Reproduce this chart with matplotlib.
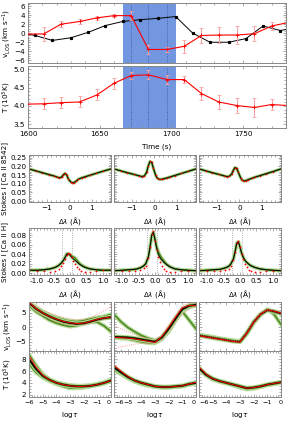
import matplotlib
matplotlib.use("Agg")
import matplotlib.pyplot as plt
from matplotlib.ticker import AutoMinorLocator, MultipleLocator

# ---- time series (top panels) ----
t_red = [1599, 1611, 1623, 1636, 1648, 1660, 1672, 1684, 1697, 1709, 1721, 1733, 1746, 1758, 1770, 1782]
v_red = [-0.2, -0.15, 2.0, 2.6, 3.4, 3.9, 3.9, -3.6, -3.6, -2.9, -0.5, -0.4, -0.4, -0.1, 1.6, 2.4]
v_err = [0.4, 1.5, 0.7, 0.6, 0.5, 0.4, 1.0, 1.0, 0.5, 1.4, 1.7, 1.8, 1.9, 1.6, 0.9, 0.5]
T_red = [4.05, 4.06, 4.09, 4.11, 4.30, 4.62, 4.83, 4.85, 4.72, 4.72, 4.34, 4.11, 4.01, 3.96, 4.04, 4.01]
T_err = [0.05, 0.15, 0.15, 0.15, 0.15, 0.15, 0.1, 0.12, 0.12, 0.1, 0.17, 0.2, 0.2, 0.25, 0.15, 0.05]
t_blk = [1593, 1605, 1617, 1630, 1642, 1654, 1666, 1678, 1691, 1703, 1715, 1727, 1740, 1752, 1764, 1776, 1788]
v_blk = [0.1, -0.5, -1.6, -1.0, 0.2, 1.7, 2.6, 3.0, 3.3, 3.7, 0.0, -2.0, -2.0, -1.2, 1.6, 0.6, 1.3]
span_t = (1666, 1703)
sel_t = [1672, 1684, 1697]

# ---- Ca II 8542 profiles ----
wl_ir = [-1.8, -1.5, -1.2, -0.9, -0.7, -0.55, -0.45, -0.35, -0.28, -0.2, -0.12, -0.05,
         0.05, 0.12, 0.2, 0.3, 0.4, 0.55, 0.7, 0.9, 1.2, 1.5, 1.85]
ir_1 = [0.185, 0.174, 0.163, 0.152, 0.145, 0.138, 0.134, 0.138, 0.150, 0.159, 0.150, 0.128,
        0.111, 0.105, 0.106, 0.115, 0.126, 0.134, 0.140, 0.148, 0.160, 0.172, 0.185]
ir_2 = [0.185, 0.174, 0.163, 0.153, 0.146, 0.141, 0.145, 0.165, 0.200, 0.228, 0.222, 0.190,
        0.150, 0.133, 0.126, 0.125, 0.128, 0.133, 0.139, 0.147, 0.159, 0.171, 0.185]
ir_3 = [0.185, 0.174, 0.163, 0.153, 0.146, 0.141, 0.143, 0.155, 0.175, 0.193, 0.188, 0.165,
        0.135, 0.120, 0.116, 0.118, 0.124, 0.131, 0.138, 0.146, 0.158, 0.170, 0.185]

# ---- Ca II H profiles ----
wl_h = [-1.25, -1.0, -0.8, -0.6, -0.45, -0.35, -0.28, -0.2, -0.15, -0.1, -0.05, 0.0,
        0.05, 0.1, 0.15, 0.2, 0.28, 0.35, 0.45, 0.6, 0.8, 1.0, 1.25]
h_fit_1 = [0.006, 0.006, 0.007, 0.009, 0.012, 0.016, 0.020, 0.027, 0.033, 0.040, 0.041, 0.038,
           0.033, 0.030, 0.027, 0.024, 0.019, 0.016, 0.012, 0.009, 0.007, 0.006, 0.006]
h_alt_1 = [0.006, 0.006, 0.007, 0.009, 0.012, 0.016, 0.020, 0.027, 0.033, 0.040, 0.041, 0.039,
           0.036, 0.034, 0.032, 0.028, 0.021, 0.017, 0.013, 0.009, 0.007, 0.006, 0.006]
h_obs_1 = [0.006, 0.005, 0.004, 0.003, 0.005, 0.009, 0.014, 0.022, 0.030, 0.039, 0.042, 0.040,
           0.033, 0.026, 0.019, 0.013, 0.008, 0.004, 0.002, 0.002, 0.004, 0.006, 0.006]
h_fit_2 = [0.005, 0.006, 0.007, 0.008, 0.011, 0.015, 0.020, 0.035, 0.055, 0.080, 0.086, 0.070,
           0.052, 0.040, 0.033, 0.028, 0.022, 0.018, 0.013, 0.009, 0.007, 0.006, 0.005]
h_alt_2 = [0.005, 0.006, 0.007, 0.008, 0.011, 0.015, 0.020, 0.035, 0.055, 0.080, 0.086, 0.072,
           0.056, 0.045, 0.038, 0.032, 0.025, 0.019, 0.014, 0.009, 0.007, 0.006, 0.005]
h_obs_2 = [0.006, 0.005, 0.004, 0.004, 0.006, 0.010, 0.016, 0.032, 0.055, 0.083, 0.088, 0.068,
           0.048, 0.034, 0.024, 0.016, 0.009, 0.005, 0.003, 0.002, 0.004, 0.005, 0.006]
h_fit_3 = [0.005, 0.006, 0.007, 0.008, 0.011, 0.014, 0.019, 0.030, 0.045, 0.063, 0.066, 0.055,
           0.042, 0.033, 0.027, 0.023, 0.018, 0.015, 0.012, 0.009, 0.007, 0.006, 0.005]
h_obs_3 = [0.006, 0.005, 0.004, 0.004, 0.006, 0.009, 0.014, 0.028, 0.045, 0.064, 0.067, 0.054,
           0.040, 0.029, 0.020, 0.013, 0.007, 0.004, 0.002, 0.002, 0.004, 0.005, 0.006]
h_lines = [-0.25, 0.05]

# ---- inverted atmospheres ----
ltau = [-6, -5.5, -5, -4.5, -4, -3.5, -3, -2.5, -2, -1.5, -1, -0.5, 0]
v_fit = [[8.5, 6.5, 5.0, 3.8, 2.8, 2.0, 1.5, 1.2, 1.4, 2.0, 2.7, 3.2, 3.5],
         [-3.3, -3.4, -3.5, -3.8, -4.2, -4.6, -5.0, -3.5, -0.5, 3.0, 6.3, 7.5, 7.8],
         [-2.8, -3.2, -3.6, -4.0, -4.4, -4.8, -5.0, -2.0, 1.8, 4.5, 6.0, 5.5, 4.8]]
v_mean = [[8.7, 6.6, 5.0, 3.8, 2.9, 2.1, 1.6, 1.3, 1.5, 2.1, 2.8, 3.3, 3.6],
          [-3.5, -3.6, -3.7, -4.0, -4.4, -4.8, -5.2, -3.2, 0.0, 3.5, 6.8, 7.6, 7.5],
          [-2.9, -3.3, -3.7, -4.1, -4.5, -4.9, -5.1, -2.0, 1.8, 4.6, 6.1, 5.6, 5.0]]
v_alt = [[[7.5, 5.5, 4.0, 2.5, 1.5, 0.8, 0.3, 0.6, 1.3, 1.8, 1.8, 0.5, -1.5],
          [8.5, 7.0, 5.5, 4.3, 3.4, 2.7, 2.2, 2.0, 2.3, 2.9, 3.4, 3.8, 4.5]],
         [[4.5, 2.0, 0.0, -1.5, -2.8, -3.8, -4.5, -3.8, -1.5, 2.5, 5.5, 2.5, -0.5],
          [-3.5, -3.8, -4.0, -4.5, -5.0, -5.4, -5.5, -4.0, -1.0, 2.5, 5.8, 7.0, 7.6]],
         [[-2.5, -3.0, -3.3, -3.8, -4.2, -4.5, -4.8, -2.3, 1.5, 4.3, 6.3, 4.5, 1.0]]]
v_lo = [[8.0, 5.8, 4.2, 3.0, 2.0, 1.3, 0.9, 0.7, 0.9, 1.4, 2.2, 2.8, 3.0],
        [-7.5, -6.8, -6.3, -5.8, -5.6, -5.5, -5.5, -4.5, -1.5, 1.5, 4.5, 6.5, 7.5],
        [-3.2, -3.6, -4.0, -4.3, -4.7, -5.1, -5.4, -2.5, 1.2, 4.2, 5.8, 5.2, 4.6]]
v_hi = [[8.8, 7.5, 6.0, 5.0, 4.2, 3.5, 3.0, 2.6, 2.8, 3.4, 4.5, 5.8, 7.2],
        [0.5, -0.5, -1.5, -2.5, -3.3, -3.8, -4.3, -2.5, 0.8, 4.5, 7.5, 8.3, 8.5],
        [-2.6, -3.0, -3.4, -3.8, -4.2, -4.6, -4.8, -1.5, 2.4, 5.0, 6.4, 6.0, 5.4]]
T_fit = [[8.0, 6.4, 5.2, 4.5, 4.0, 3.7, 3.5, 3.4, 3.4, 3.5, 3.7, 4.0, 4.4],
         [6.6, 5.8, 5.0, 4.4, 4.0, 3.7, 3.4, 3.3, 3.3, 3.4, 3.5, 3.8, 4.0],
         [6.5, 5.4, 4.7, 4.3, 4.0, 3.7, 3.4, 3.1, 3.2, 3.4, 3.7, 3.9, 4.1]]
T_mean = [[8.6, 6.7, 5.3, 4.5, 4.0, 3.7, 3.5, 3.4, 3.4, 3.5, 3.7, 4.0, 4.4],
          [7.0, 6.0, 5.1, 4.4, 4.0, 3.7, 3.4, 3.3, 3.3, 3.4, 3.5, 3.8, 4.1],
          [6.7, 5.5, 4.7, 4.3, 4.0, 3.7, 3.4, 3.1, 3.2, 3.4, 3.7, 3.9, 4.1]]
T_alt = [[[7.2, 5.8, 4.9, 4.3, 3.8, 3.4, 3.1, 3.1, 3.2, 3.4, 3.6, 3.9, 4.3],
          [8.8, 7.0, 5.5, 4.6, 4.1, 3.8, 3.6, 3.5, 3.5, 3.6, 3.8, 4.1, 4.5]],
         [[6.2, 5.5, 4.8, 4.2, 3.8, 3.5, 3.3, 3.2, 3.2, 3.3, 3.4, 3.7, 3.9]],
         [[6.3, 5.3, 4.6, 4.2, 3.9, 3.6, 3.2, 2.9, 3.0, 3.3, 3.6, 3.8, 4.0]]]

FS = 5.2
W, H = 287, 421
fig = plt.figure(figsize=(W / 100, H / 100), dpi=100)
plt.rcParams['font.family'] = 'DejaVu Sans'


def box(l, t, r, b):
	return fig.add_axes([l / W, 1 - b / H, (r - l) / W, (b - t) / H])


def style(ax):
	for s in ax.spines.values():
		s.set_color('#888888')
		s.set_linewidth(0.7)
	ax.xaxis.set_minor_locator(AutoMinorLocator())
	ax.yaxis.set_minor_locator(AutoMinorLocator())
	ax.tick_params(which='both', direction='in', top=True, right=True,
	               colors='#888888', labelcolor='black', labelsize=FS, width=0.5, pad=2)
	ax.tick_params(which='major', length=2.5)
	ax.tick_params(which='minor', length=1.2)


GL = '#b7dc9c'
GD = '#4f8a22'

# top: v_LOS time series
ax1 = box(28, 3, 286, 63)
ax2 = box(28, 66, 286, 128)
for ax in (ax1, ax2):
	ax.axvspan(span_t[0], span_t[1], color='#7396e0', lw=0, zorder=0)
	for tt in sel_t:
		ax.axvline(tt, color='#3b4f8a', ls=':', lw=0.6, zorder=1)
	ax.set_xlim(1600, 1780)
	ax.xaxis.set_major_locator(MultipleLocator(50))
	style(ax)
ax1.plot(t_blk, v_blk, color='black', marker='s', ms=1.3, lw=0.7, zorder=3)
ax1.errorbar(t_red, v_red, yerr=v_err, color='red', ecolor='#f6a3a3', elinewidth=0.8,
             capsize=1.5, capthick=0.6, marker='+', ms=2.5, mew=0.6, lw=0.8, zorder=4)
ax1.set_ylim(-6.6, 6.7)
ax1.set_yticks([-6, -4, -2, 0, 2, 4, 6])
ax1.set_xticklabels([])
ax2.errorbar(t_red, T_red, yerr=T_err, color='red', ecolor='#f6a3a3', elinewidth=0.8,
             capsize=1.5, capthick=0.6, marker='+', ms=2.5, mew=0.6, lw=0.8, zorder=4)
ax2.set_ylim(3.4, 5.09)
ax2.set_yticks([3.5, 4.0, 4.5, 5.0])
ax2.yaxis.set_major_formatter(plt.FormatStrFormatter('%.1f'))
fig.text(7 / W, 1 - 33 / H, r'v$_{\rm LOS}$ (km s$^{-1}$)', rotation=90, fontsize=FS,
         ha='center', va='center')
fig.text(7 / W, 1 - 97 / H, r'T (10$^3$K)', rotation=90, fontsize=FS, ha='center', va='center')
fig.text(157 / W, 1 - 147 / H, 'Time (s)', fontsize=FS, ha='center', va='center')

cols = [(29, 111), (114, 196), (199, 281)]
ir = [ir_1, ir_2, ir_3]
h_fit = [h_fit_1, h_fit_2, h_fit_3]
h_alt = [h_alt_1, h_alt_2, h_fit_3]
h_obs = [h_obs_1, h_obs_2, h_obs_3]

for i, (l, r) in enumerate(cols):
	# Ca II 8542
	ax = box(l, 155, r, 202)
	ax.plot(wl_ir, ir[i], color=GL, lw=2.4, solid_capstyle='round')
	ax.plot(wl_ir, ir[i], color=GD, lw=1.3)
	ax.plot(wl_ir, ir[i], color='black', lw=0.6)
	ax.plot(wl_ir, ir[i], 'o', color='red', ms=1.2, mew=0)
	ax.set_xlim(-1.8, 1.85)
	ax.set_ylim(-0.005, 0.265)
	ax.set_xticks([-1, 0, 1])
	ax.set_yticks([0, 0.05, 0.10, 0.15, 0.20, 0.25])
	style(ax)
	if i == 0:
		ax.yaxis.set_major_formatter(plt.FormatStrFormatter('%.2f'))
	else:
		ax.set_yticklabels([])
	fig.text((l + r) / 2 / W, 1 - 221 / H, r'$\Delta\lambda$ ($\rm\AA$)', fontsize=FS,
	         ha='center', va='center')

	# Ca II H
	ax = box(l, 228, r, 275)
	for xl in h_lines:
		ax.axvline(xl, color='#999999', ls=':', lw=0.6)
	ax.plot(wl_h, h_alt[i], color=GL, lw=2.6)
	ax.plot(wl_h, h_fit[i], color=GL, lw=2.4)
	ax.plot(wl_h, h_alt[i], color=GD, lw=1.2)
	ax.plot(wl_h, h_fit[i], color='black', lw=0.7)
	ax.plot(wl_h, h_obs[i], 'o', color='red', ms=1.3, mew=0)
	ax.set_xlim(-1.25, 1.25)
	ax.set_ylim(-0.004, 0.095)
	ax.set_xticks([-1.0, -0.5, 0.0, 0.5, 1.0])
	ax.xaxis.set_major_formatter(plt.FormatStrFormatter('%.1f'))
	ax.set_yticks([0, 0.02, 0.04, 0.06, 0.08])
	style(ax)
	if i == 0:
		ax.yaxis.set_major_formatter(plt.FormatStrFormatter('%.2f'))
	else:
		ax.set_yticklabels([])
	fig.text((l + r) / 2 / W, 1 - 294 / H, r'$\Delta\lambda$ ($\rm\AA$)', fontsize=FS,
	         ha='center', va='center')

	# v_LOS stratification
	ax = box(l, 302, r, 351)
	for alt in v_alt[i]:
		ax.plot(ltau, alt, color=GL, lw=3.0)
		ax.plot(ltau, alt, color=GD, lw=1.2)
	ax.plot(ltau, v_fit[i], color=GL, lw=3.4)
	ax.plot(ltau, v_fit[i], color=GD, lw=2.0)
	ax.plot(ltau, v_fit[i], color='black', lw=1.1)
	ax.plot(ltau, v_lo[i], color='#ff8080', ls=':', lw=0.6)
	ax.plot(ltau, v_hi[i], color='#ff8080', ls=':', lw=0.6)
	ax.plot(ltau, v_mean[i], color='red', lw=0.7)
	ax.set_xlim(-6, 0)
	ax.set_ylim(-8.2, 8.8)
	ax.set_yticks([-5, 0, 5])
	style(ax)
	ax.set_xticklabels([])
	if i > 0:
		ax.set_yticklabels([])

	# temperature stratification
	ax = box(l, 351, r, 397)
	for alt in T_alt[i]:
		ax.plot(ltau, alt, color=GL, lw=3.0)
		ax.plot(ltau, alt, color=GD, lw=1.2)
	ax.plot(ltau, T_fit[i], color=GL, lw=3.4)
	ax.plot(ltau, T_fit[i], color=GD, lw=2.0)
	ax.plot(ltau, T_fit[i], color='black', lw=1.1)
	ax.plot(ltau, T_mean[i], color='red', lw=0.7)
	ax.set_xlim(-6, 0)
	ax.set_ylim(1.6, 9.4)
	ax.set_yticks([2, 4, 6, 8])
	ax.set_xticks([-6, -5, -4, -3, -2, -1, 0])
	style(ax)
	ax.tick_params(axis='x', labelsize=4.6)
	ticks = ax.xaxis.get_major_ticks()
	if i > 0:
		ax.set_yticklabels([])
		ticks[0].label1.set_horizontalalignment('left')
	if i < 2:
		ticks[-1].label1.set_horizontalalignment('right')
	fig.text((l + r) / 2 / W, 1 - 415 / H, r'log$\tau$', fontsize=FS, ha='center', va='center')

fig.text(5 / W, 1 - 178 / H, 'Stokes I [Ca II 8542]', rotation=90, fontsize=FS,
         ha='center', va='center')
fig.text(5 / W, 1 - 252 / H, 'Stokes I [Ca II H]', rotation=90, fontsize=FS,
         ha='center', va='center')
fig.text(8 / W, 1 - 326 / H, r'v$_{\rm LOS}$ (km s$^{-1}$)', rotation=90, fontsize=FS,
         ha='center', va='center')
fig.text(8 / W, 1 - 374 / H, r'T (10$^3$K)', rotation=90, fontsize=FS, ha='center', va='center')

fig.savefig('out.png', dpi=100)
